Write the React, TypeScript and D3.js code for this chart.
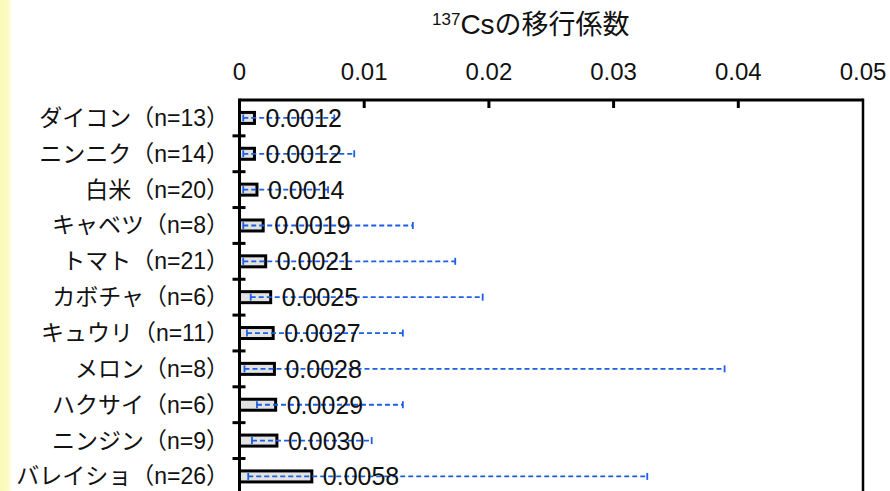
import React from "react";
import * as d3 from "d3";

// Crops and their sample counts
const crops = ["ダイコン", "ニンニク", "白米", "キャベツ", "トマト", "カボチャ", "キュウリ", "メロン", "ハクサイ", "ニンジン", "バレイショ"];
const counts = [13, 14, 20, 8, 21, 6, 11, 8, 6, 9, 26];

// Mean transfer factor, with min / max range
const means = [0.0012, 0.0012, 0.0014, 0.0019, 0.0021, 0.0025, 0.0027, 0.0028, 0.0029, 0.003, 0.0058];
const mins = [0.0003, 0.0003, 0.0003, 0.0003, 0.0003, 0.0009, 0.0006, 0.0004, 0.0014, 0.001, 0.0007];
const maxs = [0.0076, 0.0092, 0.0071, 0.0139, 0.0173, 0.0195, 0.0131, 0.0389, 0.0131, 0.0106, 0.0327];

const tickValues = [0, 0.01, 0.02, 0.03, 0.04, 0.05];
const tickLabels = ["0", "0.01", "0.02", "0.03", "0.04", "0.05"];

const W = 890;
const H = 491;
const FONT = "'Liberation Sans', Arial, 'Noto Sans CJK JP', sans-serif";
const BLUE = "#1c5fe6";

export default function App() {
  const top = 100;
  const step = 35.85;
  const x = d3.scaleLinear().domain([0, 0.05]).range([239.5, 863]);
  const y = d3
    .scaleBand<number>()
    .domain(d3.range(crops.length))
    .range([top, top + step * crops.length])
    .paddingInner(0)
    .paddingOuter(0);
  const fmt = d3.format(".4f");
  const barH = 11;
  const bottom = top + step * crops.length;

  return (
    <svg
      width={W}
      height={H}
      style={{ position: "absolute", left: 0, top: 0, background: "#fff" }}
      fontFamily={FONT}
    >
      <defs>
        <linearGradient id="edge" x1="0" x2="1" y1="0" y2="0">
          <stop offset="0" stopColor="#fafab8" />
          <stop offset="0.65" stopColor="#fbfbc4" />
          <stop offset="1" stopColor="#ffffff" />
        </linearGradient>
      </defs>
      <rect x={0} y={0} width={W} height={H} fill="#fff" />
      <rect x={0} y={0} width={12} height={H} fill="url(#edge)" />

      {/* title */}
      <text x={432} y={34} fill="#111">
        <tspan fontSize={17} dy={-9}>137</tspan>
        <tspan fontSize={28} dy={9}>Cs</tspan>
        <tspan fontSize={27}>の移行係数</tspan>
      </text>

      {/* top axis labels */}
      {tickValues.map((t, i) => (
        <text key={t} x={x(t)} y={80} fontSize={24} textAnchor="middle" fill="#111">
          {tickLabels[i]}
        </text>
      ))}

      {/* bars */}
      {means.map((m, i) => {
        const cy = (y(i) as number) + step / 2;
        return (
          <rect
            key={"b" + i}
            x={x(0)}
            y={cy - barH / 2}
            width={x(m) - x(0)}
            height={barH}
            fill="#e2e2e2"
            stroke="#000"
            strokeWidth={3}
          />
        );
      })}

      {/* min-max ranges */}
      {means.map((_, i) => {
        const cy = (y(i) as number) + step / 2;
        return (
          <g key={"e" + i} stroke={BLUE} strokeWidth={1.8}>
            <line x1={x(mins[i])} x2={x(maxs[i])} y1={cy} y2={cy} strokeDasharray="5,3" />
            <line x1={x(mins[i])} x2={x(mins[i])} y1={cy - 3.5} y2={cy + 3.5} />
            <line x1={x(maxs[i])} x2={x(maxs[i])} y1={cy - 3.5} y2={cy + 3.5} />
          </g>
        );
      })}

      {/* value labels */}
      {means.map((m, i) => {
        const cy = (y(i) as number) + step / 2;
        return (
          <text key={"v" + i} x={x(m) + 11} y={cy + 9} fontSize={25} fill="#111">
            {fmt(m)}
          </text>
        );
      })}

      {/* category labels */}
      {crops.map((c, i) => {
        const cy = (y(i) as number) + step / 2;
        return (
          <text key={"c" + i} x={229} y={cy + 8} fontSize={23} textAnchor="end" fill="#111">
            {`${c}（n=${counts[i]}）`}
          </text>
        );
      })}

      {/* frame and axes */}
      <line x1={x(0)} x2={x(0.05)} y1={top} y2={top} stroke="#000" strokeWidth={3} />
      <line x1={x(0.05)} x2={x(0.05)} y1={top - 1.5} y2={bottom} stroke="#000" strokeWidth={2.5} />
      <line x1={x(0)} x2={x(0)} y1={top - 1.5} y2={bottom} stroke="#000" strokeWidth={3} />
      {tickValues.slice(1, -1).map((t) => (
        <line key={"t" + t} x1={x(t)} x2={x(t)} y1={top} y2={top + 8} stroke="#000" strokeWidth={3} />
      ))}
      {d3.range(1, crops.length).map((i) => (
        <line
          key={"yt" + i}
          x1={x(0) - 7}
          x2={x(0) + 6}
          y1={y(i) as number}
          y2={y(i) as number}
          stroke="#000"
          strokeWidth={3}
        />
      ))}
    </svg>
  );
}
